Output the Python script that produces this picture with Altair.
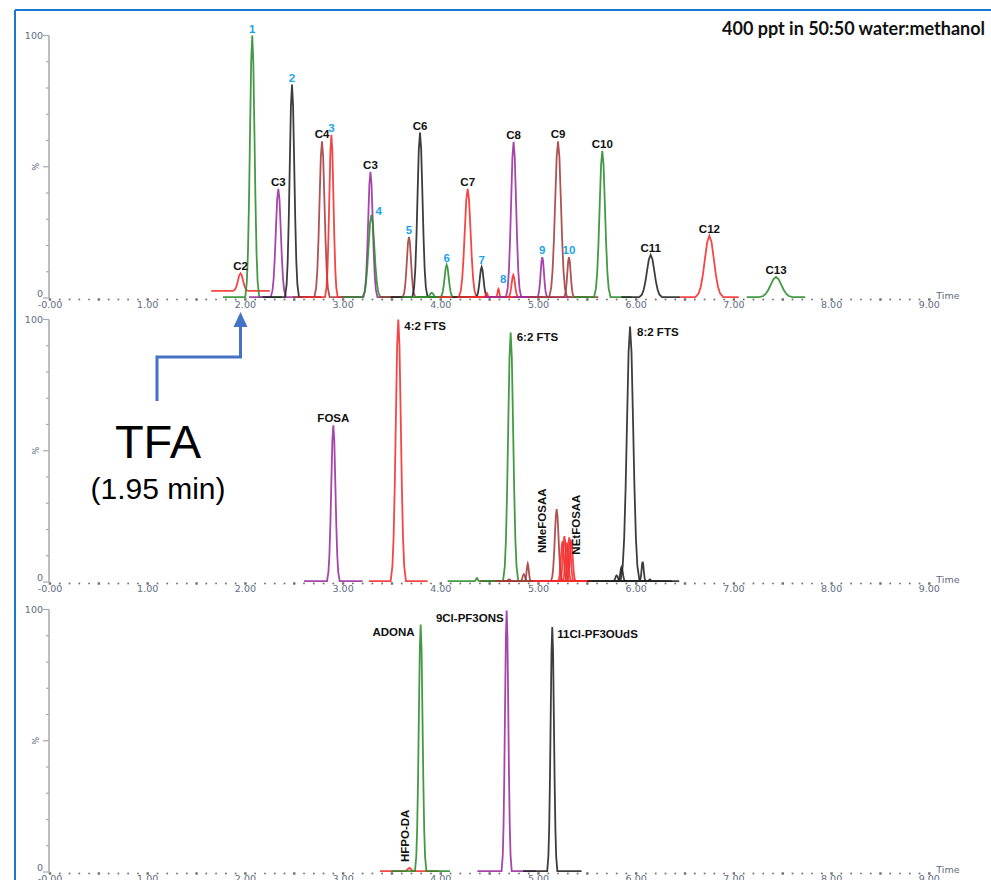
import altair as alt
import pandas as pd

# ------------------------------------------------------------------ peak tables
# Each peak: retention time (min), apex height (% of panel full scale),
# width at half height (min), baseline level (%) and the trace it belongs to.

# Top panel: C2-C13 homologues plus numbered compounds
P1_LABEL = ["C2", "1", "C3", "2", "C4", "3", "C3", "4", "5", "C6", "", "6", "C7",
            "7", "", "", "8", "C8", "9", "C9", "10", "C10", "C11", "C12", "C13"]
P1_RT = [1.95, 2.07, 2.337, 2.477, 2.784, 2.88, 3.28, 3.29, 3.674, 3.787, 3.907, 4.06, 4.275,
         4.418, 4.47, 4.59, 4.742, 4.745, 5.039, 5.20, 5.312, 5.653, 6.148, 6.749, 7.431]
P1_HEIGHT = [9.4, 100.0, 41.6, 81.3, 59.7, 62.2, 48.1, 31.7, 23.3, 63.0, 2.0, 12.6, 41.6,
             11.8, 2.0, 3.5, 8.8, 59.5, 15.6, 59.7, 15.6, 56.1, 16.4, 23.7, 8.0]
P1_FWHM = [0.06, 0.055, 0.06, 0.055, 0.06, 0.05, 0.055, 0.07, 0.05, 0.06, 0.04, 0.05, 0.07,
           0.045, 0.02, 0.02, 0.04, 0.06, 0.04, 0.07, 0.04, 0.065, 0.09, 0.11, 0.13]
P1_BASE = [2.7, 0.3, 0.3, 0.3, 0.3, 0.3, 0.3, 0.3, 0.3, 0.3, 0.3, 0.3, 0.3,
           0.3, 0.3, 0.3, 0.3, 0.3, 0.3, 0.3, 0.3, 0.3, 0.3, 0.3, 0.3]
P1_TRACE = ["ch4", "ch1", "ch3", "ch2", "ch5", "ch4", "ch3", "ch1", "ch5", "ch2", "ch1", "ch1", "ch4",
            "ch2", "ch4", "ch4", "ch4", "ch3", "ch3", "ch5", "ch5", "ch1", "ch2", "ch4", "ch1"]

# Middle panel: FOSA, fluorotelomer sulfonates and FOSAAs
P2_LABEL = ["FOSA", "4:2 FTS", "", "", "6:2 FTS", "", "", "NMeFOSAA", "", "", "NEtFOSAA", "", "",
            "", "", "8:2 FTS", "", ""]
P2_RT = [2.90, 3.565, 4.37, 4.70, 4.715, 4.85, 4.89, 5.186, 5.245, 5.265, 5.29, 5.315, 5.335,
         5.80, 5.85, 5.937, 6.066, 6.14]
P2_HEIGHT = [59.7, 100.0, 1.5, 1.0, 95.0, 3.0, 7.0, 27.8, 15.5, 17.5, 15.0, 17.0, 16.0,
             2.5, 5.7, 97.3, 7.7, 1.0]
P2_FWHM = [0.05, 0.06, 0.02, 0.03, 0.06, 0.03, 0.025, 0.045, 0.035, 0.035, 0.035, 0.035, 0.035,
           0.03, 0.03, 0.075, 0.025, 0.02]
P2_BASE = [0.3, 0.3, 0.3, 0.3, 0.3, 0.3, 0.3, 0.3, 0.3, 0.3, 0.3, 0.3, 0.3,
           0.3, 0.3, 0.3, 0.3, 0.3]
P2_TRACE = ["ch3", "ch4", "ch1", "ch5", "ch1", "ch5", "ch5", "ch5", "ch4", "ch4", "ch4", "ch4", "ch4",
            "ch2", "ch2", "ch2", "ch2", "ch2"]

# Bottom panel: ether-based replacement compounds
P3_LABEL = ["HFPO-DA", "ADONA", "9Cl-PF3ONS", "11Cl-PF3OUdS"]
P3_RT = [3.678, 3.794, 4.674, 5.141]
P3_HEIGHT = [1.5, 94.3, 99.6, 93.3]
P3_FWHM = [0.04, 0.045, 0.04, 0.04]
P3_BASE = [0.3, 0.3, 0.3, 0.3]
P3_TRACE = ["ch4", "ch1", "ch3", "ch2"]

SAMPLE_NOTE = "400 ppt in 50:50 water:methanol"
TFA_NAME = "TFA"
TFA_RT = P1_RT[0]          # C2 acid (TFA) retention time

X_TICK_LABELS = ["-0.00", "1.00", "2.00", "3.00", "4.00", "5.00", "6.00", "7.00", "8.00", "9.00"]

# ------------------------------------------------------------------ styling
TRACE_COLORS = {"ch1": "#2a8c2a", "ch2": "#222222", "ch3": "#9a2b9e",
                "ch4": "#f42b2b", "ch5": "#a33a3a"}
LABEL_COLORS = {"compound": "#111111", "number": "#1aa3ec"}
AXIS_GREY = "#a9a9a9"
AXIS_TEXT = "#5d6b80"
FRAME_BLUE = "#1a78d0"
ARROW_BLUE = "#4472c4"

# Peak outline (half widths in FWHM units, fraction of apex height)
OUTLINE_X = [-1.3, -1.0, -0.8, -0.6, -0.4, -0.2, 0.0, 0.2, 0.4, 0.6, 0.8, 1.0, 1.3]
OUTLINE_F = [0.0, 0.06, 0.17, 0.37, 0.64, 0.9, 1.0, 0.9, 0.64, 0.37, 0.17, 0.06, 0.0]
WINDOW = 0.3               # baseline shown either side of each peak (min)

# Page geometry: one shared time scale, three stacked panels on one level scale
WIDTH, HEIGHT = 991, 880
PX_PER_MIN = 97.7
PX_PER_PCT = 2.625
X_MIN = -50 / PX_PER_MIN
X_MAX = X_MIN + WIDTH / PX_PER_MIN
Y_MAX = HEIGHT / PX_PER_PCT
PANEL_BASE = {1: (HEIGHT - 298) / PX_PER_PCT,
              2: (HEIGHT - 582) / PX_PER_PCT,
              3: (HEIGHT - 872) / PX_PER_PCT}
Y_AXIS_T = -1 / PX_PER_MIN

XS = alt.Scale(domain=[X_MIN, X_MAX], nice=False, zero=False)
YS = alt.Scale(domain=[0, Y_MAX], nice=False, zero=False)


def px_t(px):
    return px / PX_PER_MIN


def px_l(px):
    return px / PX_PER_PCT


# label placement: group, dx (px), dy (px, down positive) from the apex
PLACEMENT = {
    "4": ("right", 4, -3),
    "8": ("left", -7, 5),
    "4:2 FTS": ("right", 6, 7),
    "6:2 FTS": ("right", 6, 5),
    "8:2 FTS": ("right", 7, 6),
    "ADONA": ("left", -6, 9),
    "9Cl-PF3ONS": ("left", -3, 8),
    "11Cl-PF3OUdS": ("right", 5, 8),
    "NMeFOSAA": ("vertical", -14, 44),
    "NEtFOSAA": ("vertical", 10, 12),
    "HFPO-DA": ("vertical", -3, -6),
}
DEFAULT_PLACEMENT = ("above", 0, -1)
LABEL_GROUPS = {
    "above": dict(align="center", baseline="bottom", angle=0),
    "right": dict(align="left", baseline="middle", angle=0),
    "left": dict(align="right", baseline="middle", angle=0),
    "vertical": dict(align="left", baseline="middle", angle=270),
}

PANELS = {
    1: (P1_LABEL, P1_RT, P1_HEIGHT, P1_FWHM, P1_BASE, P1_TRACE),
    2: (P2_LABEL, P2_RT, P2_HEIGHT, P2_FWHM, P2_BASE, P2_TRACE),
    3: (P3_LABEL, P3_RT, P3_HEIGHT, P3_FWHM, P3_BASE, P3_TRACE),
}

# ------------------------------------------------------------------ tables
trace_rows, label_rows = [], []
for panel, (labels, rts, heights, widths, bases, traces) in PANELS.items():
    off = PANEL_BASE[panel]
    for i, (lab, rt, h, w, b, tr) in enumerate(zip(labels, rts, heights, widths, bases, traces)):
        sid = f"{panel}-{i}"
        pts = [(rt - WINDOW, b)]
        pts += [(rt + k * w, b + f * (h - b)) for k, f in zip(OUTLINE_X, OUTLINE_F)]
        pts += [(rt + WINDOW, b)]
        for t, v in pts:
            trace_rows.append({"series": sid, "trace": tr, "t": t, "level": off + v})
        if lab:
            grp, dx, dy = PLACEMENT.get(lab, DEFAULT_PLACEMENT)
            kind = "number" if lab.isdigit() else "compound"
            label_rows.append({"text": lab, "group": grp, "kind": kind,
                               "t": rt + px_t(dx), "level": off + h - px_l(dy)})

traces_df = pd.DataFrame(trace_rows)
labels_df = pd.DataFrame(label_rows)

dot_rows, ytick_rows, xlab_rows, ylab_rows, yaxis_rows = [], [], [], [], []
for panel, off in PANEL_BASE.items():
    for k in range(91):
        dot_rows.append({"t": k / 10, "level": off - px_l(1.5), "major": k % 5 == 0})
    for k in range(11):
        ytick_rows.append({"ax": Y_AXIS_T, "level": off + 10 * k, "major": k % 5 == 0})
    for k, txt in enumerate(X_TICK_LABELS):
        xlab_rows.append({"t": float(k), "level": off, "text": txt})
    ylab_rows.append({"t": Y_AXIS_T, "level": off + 100, "text": "100"})
    ylab_rows.append({"t": Y_AXIS_T, "level": off + px_l(4.5), "text": "0"})
    yaxis_rows.append({"t": Y_AXIS_T, "y0": off, "y1": off + 100,
                       "pct_t": Y_AXIS_T - px_t(12), "pct_level": off + 50,
                       "time_t": 9.0, "time_level": off})

dots_df = pd.DataFrame(dot_rows)
ytick_df = pd.DataFrame(ytick_rows)
xlab_df = pd.DataFrame(xlab_rows)
ylab_df = pd.DataFrame(ylab_rows)
yaxis_df = pd.DataFrame(yaxis_rows)


def X(field):
    return alt.X(field, type="quantitative", scale=XS, axis=None)


def Y(field):
    return alt.Y(field, type="quantitative", scale=YS, axis=None)


# ------------------------------------------------------------------ layers
one = pd.DataFrame({"k": [0]})
frame = alt.layer(
    alt.Chart(one).mark_rule(color=FRAME_BLUE, strokeWidth=2).encode(
        x=alt.value(15), y=alt.value(10), y2=alt.value(HEIGHT)),
    alt.Chart(one).mark_rule(color=FRAME_BLUE, strokeWidth=2).encode(
        x=alt.value(15), x2=alt.value(WIDTH), y=alt.value(10)),
)

y_axis = alt.Chart(yaxis_df).mark_rule(color=AXIS_GREY, strokeWidth=1.5).encode(
    x=X("t"), y=Y("y0"), y2="y1")
y_major = alt.Chart(ytick_df[ytick_df.major]).mark_rule(
    color=AXIS_GREY, strokeWidth=1.2, x2Offset=-6).encode(x=X("ax"), x2="ax", y=Y("level"))
y_minor = alt.Chart(ytick_df[~ytick_df.major]).mark_rule(
    color=AXIS_GREY, strokeWidth=1.2, x2Offset=-3).encode(x=X("ax"), x2="ax", y=Y("level"))
x_dots = alt.Chart(dots_df[~dots_df.major]).mark_square(
    size=3, color="#707070", opacity=1).encode(x=X("t"), y=Y("level"))
x_dots_major = alt.Chart(dots_df[dots_df.major]).mark_square(
    size=6, color="#707070", opacity=1).encode(x=X("t"), y=Y("level"))
x_labels = alt.Chart(xlab_df).mark_text(
    font="DejaVu Sans", fontSize=9.5, color=AXIS_TEXT, baseline="top", dy=1.5).encode(
    x=X("t"), y=Y("level"), text="text:N")
y_labels = alt.Chart(ylab_df).mark_text(
    font="DejaVu Sans", fontSize=9.5, color=AXIS_TEXT, align="right", baseline="middle", dx=-6).encode(
    x=X("t"), y=Y("level"), text="text:N")
pct_labels = alt.Chart(yaxis_df).mark_text(
    font="DejaVu Sans", fontSize=8, color=AXIS_TEXT, angle=270, baseline="middle", text="%").encode(
    x=X("pct_t"), y=Y("pct_level"))
time_labels = alt.Chart(yaxis_df).mark_text(
    font="DejaVu Sans", fontSize=9.5, color=AXIS_TEXT, align="left", baseline="alphabetic",
    dx=7, dy=1, text="Time").encode(x=X("time_t"), y=Y("time_level"))

lines = alt.Chart(traces_df).mark_line(strokeWidth=1.8, opacity=0.88).encode(
    x=X("t"), y=Y("level"),
    color=alt.Color("trace:N", legend=None,
                    scale=alt.Scale(domain=list(TRACE_COLORS), range=list(TRACE_COLORS.values()))),
    detail="series:N",
)

# peak labels: one layer per placement style and label colour
label_layers = []
for grp, style in LABEL_GROUPS.items():
    for kind, colour in LABEL_COLORS.items():
        sub = labels_df[(labels_df.group == grp) & (labels_df.kind == kind)]
        if len(sub) == 0:
            continue
        label_layers.append(
            alt.Chart(sub).mark_text(font="Liberation Sans", fontSize=11.5, fontWeight="bold",
                                     color=colour, **style).encode(
                x=X("t"), y=Y("level"), text="text:N")
        )

# sample description in the top-right corner of the top panel
note_df = pd.DataFrame({"t": [px_t(722 - 50)], "level": [PANEL_BASE[1] + px_l(298 - 35)], "text": [SAMPLE_NOTE]})
note = alt.Chart(note_df).mark_text(
    font="Lato", fontSize=18, fontWeight="bold", color="#111111", align="left", baseline="alphabetic").encode(
    x=X("t"), y=Y("level"), text="text:N")

# TFA call-out pointing at its retention time on the top panel's axis
tfa_t = px_t(158 - 50)
p2 = PANEL_BASE[2]
tfa_text_df = pd.DataFrame({
    "t": [tfa_t, tfa_t],
    "level": [p2 + px_l(582 - 458), p2 + px_l(582 - 499)],
    "text": [TFA_NAME, f"({TFA_RT:.2f} min)"],
    "size": ["big", "small"],
})
tfa_big = alt.Chart(tfa_text_df[tfa_text_df["size"] == "big"]).mark_text(
    font="Liberation Sans", fontSize=47, color="#000000", align="center", baseline="alphabetic").encode(
    x=X("t"), y=Y("level"), text="text:N")
tfa_small = alt.Chart(tfa_text_df[tfa_text_df["size"] == "small"]).mark_text(
    font="Liberation Sans", fontSize=30, color="#000000", align="center", baseline="alphabetic").encode(
    x=X("t"), y=Y("level"), text="text:N")

p1 = PANEL_BASE[1]
arrow_df = pd.DataFrame({
    "t": [px_t(157 - 50), px_t(157 - 50), TFA_RT, TFA_RT],
    "level": [p2 + px_l(582 - 401), p2 + px_l(582 - 357), p2 + px_l(582 - 357), p1 - px_l(25)],
    "order": [0, 1, 2, 3],
})
arrow_line = alt.Chart(arrow_df).mark_line(color=ARROW_BLUE, strokeWidth=3, strokeJoin="miter").encode(
    x=X("t"), y=Y("level"), order="order:Q")
head_df = pd.DataFrame({"t": [TFA_RT], "level": [p1 - px_l(21.5)]})
arrow_head = alt.Chart(head_df).mark_point(
    shape="M0,-1L0.93,1L-0.93,1Z", size=225, filled=True, color=ARROW_BLUE, opacity=1, strokeWidth=0).encode(
    x=X("t"), y=Y("level"))

chart = alt.layer(
    frame, y_axis, y_major, y_minor, x_dots, x_dots_major, x_labels, y_labels, pct_labels, time_labels,
    lines, *label_layers, note, arrow_line, arrow_head, tfa_big, tfa_small,
).properties(
    width=WIDTH, height=HEIGHT, padding=0,
    autosize=alt.AutoSizeParams(type="none"),
    background="white",
).configure_view(stroke=None)

chart.save("out.html", embed_options={"renderer": "svg", "actions": False})
